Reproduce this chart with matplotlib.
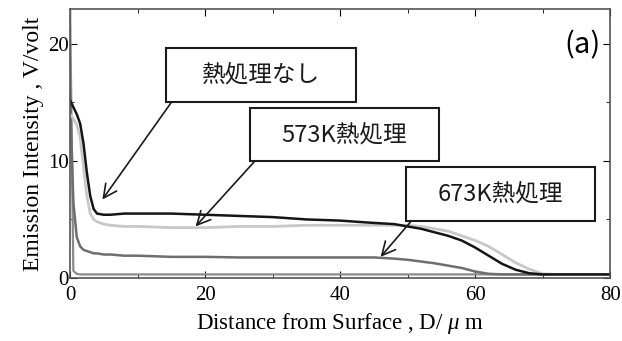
import matplotlib.pyplot as plt
from matplotlib.patches import Rectangle
from matplotlib.ticker import MultipleLocator

plt.rcParams['mathtext.fontset'] = 'custom'
plt.rcParams['mathtext.it'] = 'Liberation Serif:italic'
plt.rcParams['mathtext.rm'] = 'Liberation Serif'

# depth profile of emission intensity
distance = [0, 0.5, 1, 1.5, 2, 2.5, 3, 3.5, 4, 5, 6, 8, 10, 15, 20, 25, 30, 35, 40, 45,
            48, 50, 52, 54, 56, 58, 60, 62, 64, 66, 68, 70, 72, 75, 80]
no_heat = [15.2, 14.6, 14.0, 13.2, 11.5, 9.0, 7.0, 5.9, 5.5, 5.4, 5.4, 5.5, 5.5, 5.5, 5.4, 5.3, 5.2, 5.0, 4.9, 4.7,
           4.6, 4.4, 4.2, 3.9, 3.6, 3.2, 2.6, 1.9, 1.2, 0.7, 0.4, 0.3, 0.3, 0.3, 0.3]
heat_573 = [14.0, 13.6, 13.1, 12.0, 9.5, 7.0, 5.5, 5.0, 4.8, 4.6, 4.5, 4.4, 4.4, 4.3, 4.3, 4.4, 4.4, 4.5, 4.5, 4.5,
            4.5, 4.5, 4.4, 4.2, 4.0, 3.6, 3.2, 2.7, 2.0, 1.3, 0.75, 0.35, 0.3, 0.3, 0.3]
heat_673 = [16.0, 6.5, 3.5, 2.7, 2.4, 2.3, 2.2, 2.1, 2.1, 2.0, 2.0, 1.9, 1.9, 1.8, 1.8, 1.75, 1.75, 1.75, 1.75, 1.75,
            1.65, 1.55, 1.4, 1.25, 1.05, 0.85, 0.55, 0.35, 0.3, 0.3, 0.3, 0.3, 0.3, 0.3, 0.3]
base = [24.0, 0.6, 0.35, 0.3, 0.3, 0.3, 0.3, 0.3, 0.3, 0.3, 0.3, 0.3, 0.3, 0.3, 0.3, 0.3, 0.3, 0.3, 0.3, 0.3,
        0.3, 0.3, 0.3, 0.3, 0.3, 0.3, 0.3, 0.3, 0.3, 0.3, 0.3, 0.3, 0.3, 0.3, 0.3]

labels = ['熱処理なし', '573K熱処理', '673K熱処理']

jp = ['Noto Sans CJK JP', 'DejaVu Sans']

fig = plt.figure(figsize=(6.22, 3.41), dpi=100)
ax = fig.add_axes([0.1125, 0.185, 0.8685, 0.789])

ax.plot(distance, base, color='#8a8a8a', lw=1.6)
ax.plot(distance, heat_673, color='#6e6e6e', lw=1.8)
ax.plot(distance, heat_573, color='#c8c8c8', lw=2.0)
ax.plot(distance, no_heat, color='#151515', lw=1.8)

ax.set_xlim(0, 80)
ax.set_ylim(0, 23)
ax.xaxis.set_major_locator(MultipleLocator(20))
ax.xaxis.set_minor_locator(MultipleLocator(10))
ax.yaxis.set_major_locator(MultipleLocator(10))
ax.yaxis.set_minor_locator(MultipleLocator(5))
ax.tick_params(which='both', direction='in', top=True, right=True)
ax.tick_params(which='major', length=5, labelsize=15)
ax.tick_params(axis='x', which='major', pad=6)
ax.tick_params(axis='y', which='major', pad=1)
ax.tick_params(which='minor', length=3)
for lab in ax.get_xticklabels() + ax.get_yticklabels():
    lab.set_family('Liberation Serif')
for s in ax.spines.values():
    s.set_color('#555555')
    s.set_linewidth(1.2)

ax.set_xlabel('Distance from Surface , D/ $\\mu$ m', family='Liberation Serif', fontsize=16.5, labelpad=4)
ax.set_ylabel('Emission Intensity , V/volt', family='Liberation Serif', fontsize=17, labelpad=3)

ax.text(0.948, 0.866, '(a)', transform=ax.transAxes, ha='center', va='center',
        fontsize=21, family=jp)

# callout boxes (x0, x1, y0, y1) with arrows from the lower-left corner
boxes = [(14.2, 42.3, 15.0, 19.65), (26.6, 54.6, 10.0, 14.5), (49.8, 77.7, 4.9, 9.5)]
tips = [(4.8, 6.7), (18.6, 4.4), (46.0, 1.8)]
for lab, (x0, x1, y0, y1), t in zip(labels, boxes, tips):
    ax.add_patch(Rectangle((x0, y0), x1 - x0, y1 - y0, fc='white', ec='#1a1a1a', lw=1.5, zorder=4))
    ax.text((x0 + x1) / 2, (y0 + y1) / 2, lab, ha='center', va='center', fontsize=17,
            family=jp, color='#1a1a1a', zorder=5)
    ax.annotate('', xy=t, xytext=(x0 + 0.8, y0),
                arrowprops=dict(arrowstyle='->', color='#1a1a1a', lw=1.2,
                                mutation_scale=24, shrinkA=0, shrinkB=0))

plt.savefig('out.png', dpi=100)
